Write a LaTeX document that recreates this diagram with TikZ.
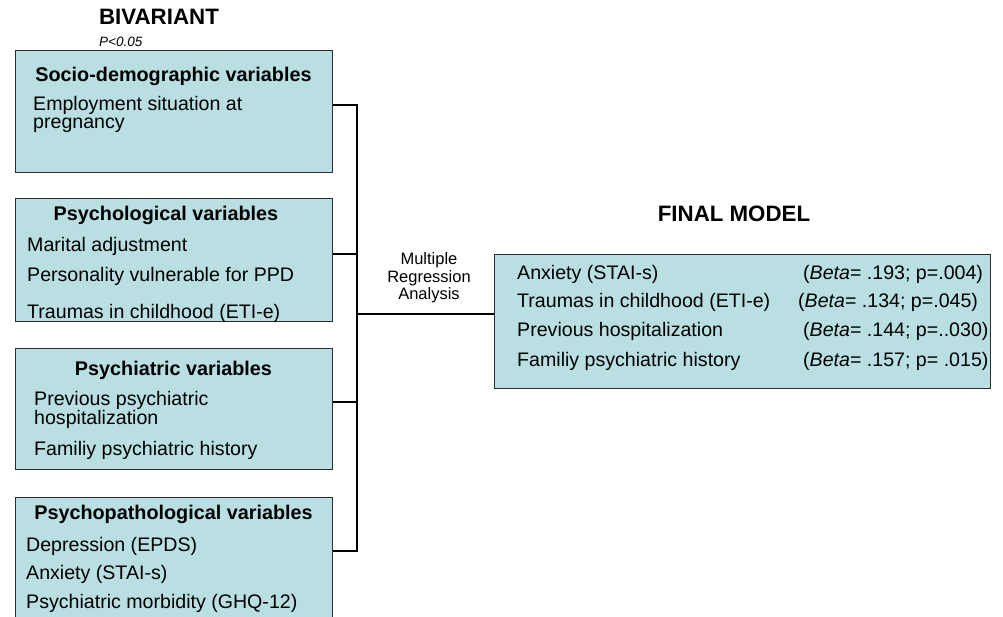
\documentclass[tikz,border=0pt]{standalone}
\usepackage{fontspec}
\setmainfont{Liberation Sans}
\definecolor{boxfill}{RGB}{185,223,226}
\definecolor{boxline}{RGB}{45,45,45}

\begin{document}
\begin{tikzpicture}
	[x=1pt, y=-1pt,
	varbox/.style ={rectangle, draw=boxline, line width=1.3pt, fill=boxfill, anchor=north west, minimum width=317pt, inner sep=0pt},
	head/.style ={anchor=base, inner sep=0pt, font=\fontsize{19.8}{21}\selectfont\bfseries},
	item/.style ={anchor=base west, inner sep=0pt, font=\fontsize{19.6}{18}\selectfont, align=left},
	title/.style ={anchor=base, inner sep=0pt, font=\fontsize{22.3}{24}\selectfont\bfseries},
	note/.style ={anchor=base west, inner sep=0pt, font=\fontsize{13.5}{15}\selectfont\itshape},
	method/.style ={align=center, inner sep=0pt, font=\fontsize{16.5}{17.5}\selectfont},
	line/.style ={draw, line width=1.2pt}]
	\useasboundingbox (0,0) rectangle (1003,617);
	\draw (159, 25) node[title] (bivar) {BIVARIANT};
	\draw (99, 47) node[note] (pval) {P<0.05};
	\draw (15, 50) node[varbox, minimum height=122pt] (socio) {};
	\draw (15, 198) node[varbox, minimum height=123pt] (psych) {};
	\draw (15, 348) node[varbox, minimum height=121pt] (psychiat) {};
	\draw (15, 497) node[varbox, minimum height=140pt] (psychopat) {};
	\draw (494, 254) node[varbox, minimum width=496pt, minimum height=134pt] (final) {};
	\draw (173.5, 82) node[head] (sociohead) {Socio-demographic variables};
	\draw (33, 128.5) node[item] (employ) {Employment situation at\\pregnancy};
	\draw (166, 221) node[head] (psychhead) {Psychological variables};
	\draw (27, 251.5) node[item] (marital) {Marital adjustment};
	\draw (27, 281.5) node[item] (person) {Personality vulnerable for PPD};
	\draw (27, 319) node[item] (trauma) {Traumas in childhood (ETI-e)};
	\draw (173.5, 375) node[head] (psychiathead) {Psychiatric variables};
	\draw (34, 424) node[item, font=\fontsize{19.6}{19}\selectfont] (prevhosp) {Previous psychiatric\\hospitalization};
	\draw (34, 455.5) node[item] (family) {Familiy psychiatric history};
	\draw (173.5, 519) node[head] (psychopathead) {Psychopathological variables};
	\draw (26, 551) node[item] (depr) {Depression (EPDS)};
	\draw (26, 579) node[item] (anx) {Anxiety (STAI-s)};
	\draw (26, 608) node[item] (morb) {Psychiatric morbidity (GHQ-12)};
	\draw (734, 222) node[title] (finalname) {FINAL MODEL};
	\draw (429, 278) node[method] (mra) {Multiple\\Regression\\Analysis};
	\draw (517, 280) node[item] (fanx) {Anxiety (STAI-s)};
	\draw (517, 308) node[item] (ftrauma) {Traumas in childhood (ETI-e)};
	\draw (517, 337) node[item] (fhosp) {Previous hospitalization};
	\draw (517, 366) node[item] (ffamily) {Familiy psychiatric history};
	\draw (803, 280) node[item] (banx) {(\textit{Beta}= .193; p=.004)};
	\draw (798, 308) node[item] (btrauma) {(\textit{Beta}= .134; p=.045)};
	\draw (803, 337) node[item] (bhosp) {(\textit{Beta}= .144; p=..030)};
	\draw (803, 366) node[item] (bfamily) {(\textit{Beta}= .157; p= .015)};
	\coordinate (j1) at (357, 105);
	\coordinate (j2) at (357, 254);
	\coordinate (j3) at (357, 402);
	\coordinate (j4) at (357, 551);
	\coordinate (jm) at (357, 314);
	\draw[line] (socio.east |- j1) -- (j1) -- (j4) -- (psychopat.east |- j4);
	\draw[line] (psych.east |- j2) -- (j2);
	\draw[line] (psychiat.east |- j3) -- (j3);
	\draw[line] (jm) -- (final.west |- jm);
\end{tikzpicture}
\end{document}
